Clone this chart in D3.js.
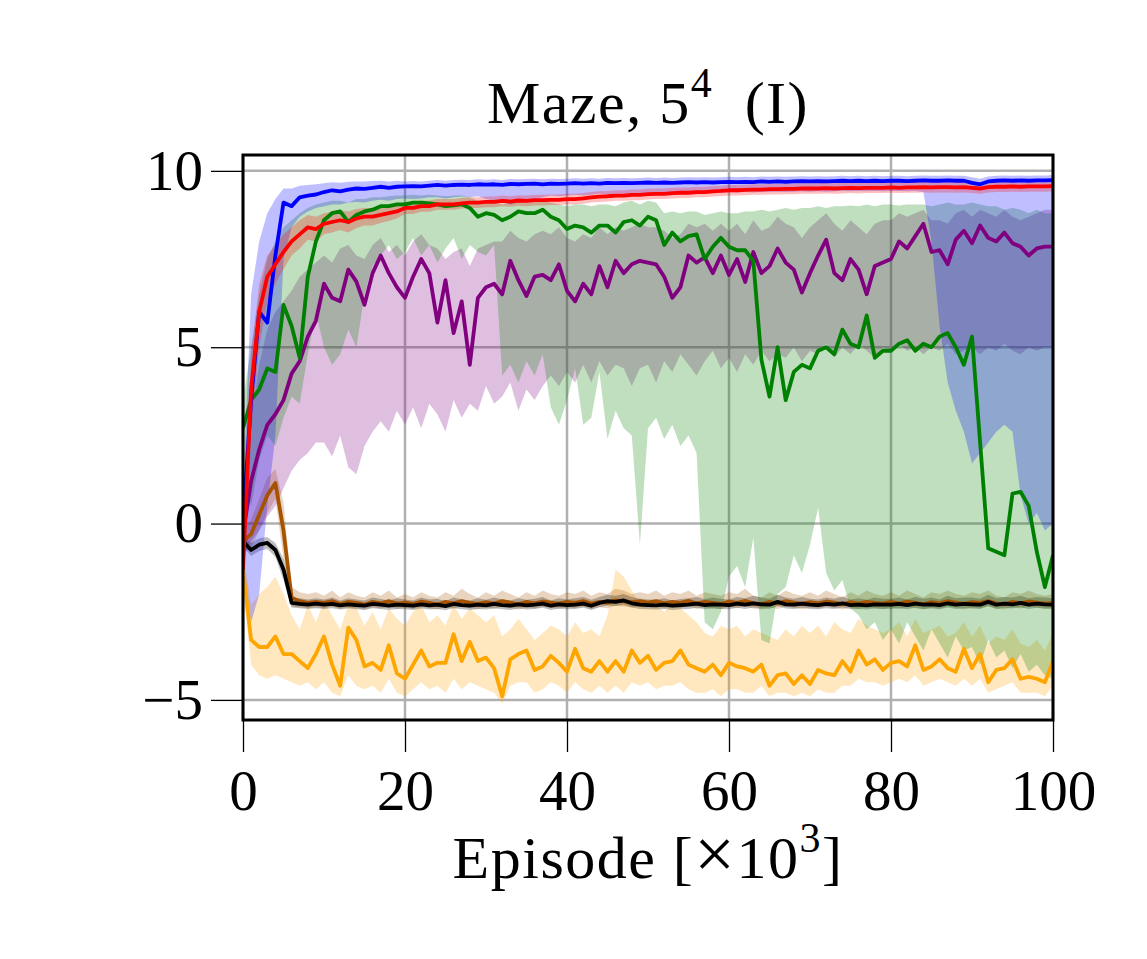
<!DOCTYPE html>
<html>
<head>
<meta charset="utf-8">
<script src="https://cdn.jsdelivr.net/npm/d3@7"></script>
<style>
  html, body { margin: 0; padding: 0; background: #fff; }
  text { font-family: "Liberation Serif", "DejaVu Serif", serif; fill: #000; }
</style>
</head>
<body>
<div id="chart"></div>
<script>
// x grid: one sample per 1000 episodes
const episodes = d3.range(0, 101);
const xTicks = [0, 20, 40, 60, 80, 100];
const yTicks = [-5, 0, 5, 10];

const blueMean = [
  0.0, 3.5, 6.0, 5.7, 7.6, 9.1, 9.0, 9.25, 9.3, 9.33,
  9.4, 9.45, 9.42, 9.47, 9.5, 9.49, 9.52, 9.55, 9.52, 9.55,
  9.56, 9.57, 9.56, 9.58, 9.6, 9.58, 9.6, 9.61, 9.6, 9.62,
  9.61, 9.62, 9.6, 9.63, 9.62, 9.63, 9.64, 9.62, 9.64, 9.63,
  9.64, 9.65, 9.64, 9.65, 9.64, 9.66, 9.65, 9.66, 9.65, 9.66,
  9.67, 9.66, 9.67, 9.66, 9.67, 9.68, 9.67, 9.68, 9.67, 9.68,
  9.69, 9.68, 9.69, 9.68, 9.7, 9.69, 9.7, 9.69, 9.7, 9.71,
  9.7, 9.71, 9.7, 9.71, 9.72, 9.71, 9.72, 9.71, 9.72, 9.71,
  9.72, 9.72, 9.71, 9.72, 9.73, 9.72, 9.72, 9.73, 9.72, 9.72,
  9.66, 9.62, 9.7, 9.72, 9.73, 9.72, 9.73, 9.72, 9.73, 9.73,
  9.74];
const blueHi = [
  0.8, 6.5, 8.0, 8.8, 9.2, 9.5, 9.5, 9.58, 9.6, 9.62,
  9.65, 9.68, 9.66, 9.69, 9.7, 9.7, 9.71, 9.72, 9.7, 9.72,
  9.7, 9.71, 9.7, 9.72, 9.74, 9.72, 9.74, 9.75, 9.74, 9.76,
  9.75, 9.76, 9.74, 9.77, 9.76, 9.77, 9.78, 9.76, 9.78, 9.77,
  9.78, 9.79, 9.78, 9.79, 9.78, 9.8, 9.79, 9.8, 9.79, 9.8,
  9.81, 9.8, 9.81, 9.8, 9.81, 9.82, 9.81, 9.82, 9.81, 9.82,
  9.83, 9.82, 9.83, 9.82, 9.84, 9.83, 9.84, 9.83, 9.84, 9.85,
  9.84, 9.85, 9.84, 9.85, 9.86, 9.85, 9.86, 9.85, 9.86, 9.85,
  9.86, 9.86, 9.85, 9.86, 9.87, 9.86, 9.86, 9.87, 9.86, 9.86,
  9.82, 9.78, 9.84, 9.86, 9.87, 9.86, 9.87, 9.86, 9.87, 9.87,
  9.88];
const blueLo = [
  -1.5, -2.8, -2.0, 0.5, 2.5, 7.5, 8.4, 8.7, 8.85, 8.95,
  9.0, 9.05, 9.05, 9.1, 9.12, 9.1, 9.15, 9.18, 9.15, 9.2,
  9.22, 9.2, 9.22, 9.25, 9.25, 9.22, 9.25, 9.27, 9.25, 9.28,
  9.2, 9.15, 9.1, 9.05, 9.1, 9.15, 9.2, 9.25, 9.3, 9.28,
  9.3, 9.32, 9.3, 9.32, 9.35, 9.33, 9.35, 9.35, 9.33, 9.36,
  9.37, 9.36, 9.37, 9.38, 9.37, 9.38, 9.37, 9.38, 9.4, 9.38,
  9.4, 9.39, 9.4, 9.39, 9.41, 9.4, 9.41, 9.4, 9.41, 9.42,
  9.41, 9.42, 9.41, 9.42, 9.43, 9.42, 9.43, 9.42, 9.43, 9.42,
  9.43, 9.43, 9.42, 9.43, 9.4, 8.0, 5.6, 4.0, 3.2, 2.6,
  1.7, 2.0, 2.3, 2.6, 2.8, 2.6, 0.8, 0.0, 0.3, -0.2,
  0.0];

const redMean = [
  -1.3, 3.8, 6.0, 7.0, 7.35, 7.7, 8.0, 8.2, 8.4, 8.35,
  8.5, 8.55, 8.6, 8.55, 8.65, 8.7, 8.7, 8.75, 8.8, 8.85,
  8.95, 8.95, 9.0, 9.0, 9.05, 9.05, 9.05, 9.08, 9.1, 9.1,
  9.12, 9.12, 9.15, 9.13, 9.16, 9.15, 9.17, 9.17, 9.18, 9.18,
  9.2, 9.2, 9.22, 9.25, 9.27, 9.28, 9.3, 9.3, 9.32, 9.32,
  9.34, 9.35, 9.35, 9.37, 9.38, 9.38, 9.4, 9.4, 9.42, 9.43,
  9.45, 9.45, 9.46, 9.47, 9.47, 9.48, 9.48, 9.49, 9.49, 9.5,
  9.5, 9.5, 9.51, 9.5, 9.51, 9.52, 9.51, 9.52, 9.52, 9.52,
  9.53, 9.52, 9.53, 9.53, 9.54, 9.53, 9.54, 9.54, 9.53, 9.54,
  9.52, 9.5, 9.54, 9.55, 9.55, 9.56, 9.55, 9.56, 9.56, 9.56,
  9.57];
const redHi = [
  -0.8, 4.8, 6.8, 7.6, 7.9, 8.2, 8.4, 8.6, 8.75, 8.7,
  8.8, 8.85, 8.88, 8.85, 8.92, 8.95, 8.95, 8.98, 9.02, 9.05,
  9.12, 9.12, 9.16, 9.16, 9.2, 9.2, 9.2, 9.23, 9.25, 9.25,
  9.27, 9.27, 9.3, 9.28, 9.31, 9.3, 9.32, 9.32, 9.33, 9.33,
  9.35, 9.35, 9.37, 9.4, 9.42, 9.43, 9.45, 9.45, 9.47, 9.47,
  9.49, 9.5, 9.5, 9.52, 9.53, 9.53, 9.55, 9.55, 9.57, 9.58,
  9.6, 9.6, 9.61, 9.62, 9.62, 9.63, 9.63, 9.64, 9.64, 9.65,
  9.65, 9.65, 9.66, 9.65, 9.66, 9.67, 9.66, 9.67, 9.67, 9.67,
  9.68, 9.67, 9.68, 9.68, 9.69, 9.68, 9.69, 9.69, 9.68, 9.69,
  9.67, 9.65, 9.69, 9.7, 9.7, 9.71, 9.7, 9.71, 9.71, 9.71,
  9.72];
const redLo = [
  -1.8, 2.6, 5.0, 6.3, 6.8, 7.2, 7.6, 7.8, 8.05, 8.0,
  8.2, 8.25, 8.32, 8.25, 8.38, 8.45, 8.45, 8.52, 8.58, 8.65,
  8.78, 8.78, 8.84, 8.84, 8.9, 8.9, 8.9, 8.93, 8.95, 8.95,
  8.97, 8.97, 9.0, 8.98, 9.01, 9.0, 9.02, 9.02, 9.03, 9.03,
  9.05, 9.05, 9.07, 9.1, 9.12, 9.13, 9.15, 9.15, 9.17, 9.17,
  9.19, 9.2, 9.2, 9.22, 9.23, 9.23, 9.25, 9.25, 9.27, 9.28,
  9.3, 9.3, 9.31, 9.32, 9.32, 9.33, 9.33, 9.34, 9.34, 9.35,
  9.35, 9.35, 9.36, 9.35, 9.36, 9.37, 9.36, 9.37, 9.37, 9.37,
  9.38, 9.37, 9.38, 9.38, 9.39, 9.38, 9.39, 9.39, 9.38, 9.39,
  9.37, 9.35, 9.39, 9.4, 9.4, 9.41, 9.4, 9.41, 9.41, 9.41,
  9.42];

const greenMean = [
  2.7, 3.5, 3.8, 4.4, 4.3, 6.2, 5.6, 4.7, 7.0, 8.0,
  8.6, 8.8, 8.85, 8.55, 8.75, 8.85, 8.9, 9.0, 9.0, 9.05,
  9.05, 9.1, 9.1, 9.08, 9.05, 9.0, 9.02, 9.05, 8.95, 8.7,
  8.8, 8.75, 8.6, 8.7, 8.85, 8.8, 8.8, 8.9, 8.7, 8.6,
  8.35, 8.45, 8.4, 8.25, 8.45, 8.45, 8.25, 8.55, 8.6, 8.45,
  8.7, 8.6, 7.9, 8.25, 8.0, 8.15, 8.2, 7.5, 7.85, 8.1,
  7.85, 7.75, 7.75, 7.45, 4.65, 3.6, 5.0, 3.5, 4.3, 4.5,
  4.4, 4.9, 5.0, 4.8, 5.5, 5.1, 5.0, 5.9, 4.7, 4.9,
  4.9, 5.1, 5.2, 4.9, 5.1, 5.0, 5.3, 5.4, 5.0, 4.5,
  5.3, 2.3, -0.7, -0.8, -0.9, 0.85, 0.9, 0.5, -0.8, -1.8,
  -0.9];
const greenHi = [
  3.5, 5.0, 6.5, 7.5, 8.0, 8.4, 8.6, 8.8, 8.95, 9.05,
  9.1, 9.15, 9.15, 9.1, 9.2, 9.2, 9.25, 9.25, 9.28, 9.3,
  9.3, 9.32, 9.3, 9.32, 9.3, 9.28, 9.3, 9.3, 9.25, 9.15,
  9.15, 9.12, 9.05, 9.1, 9.15, 9.15, 9.12, 9.18, 9.1, 9.05,
  9.0, 9.05, 9.05, 9.0, 9.05, 9.05, 9.0, 9.1, 9.15, 9.05,
  9.15, 9.1, 8.8, 8.85, 8.8, 8.85, 8.85, 8.75, 8.8, 8.85,
  8.8, 8.8, 8.85, 8.85, 8.9, 8.85, 8.9, 8.95, 8.9, 8.95,
  8.95, 9.0, 8.95, 9.0, 9.0, 9.02, 9.0, 9.05, 9.0, 9.05,
  9.05, 9.02, 9.05, 9.05, 9.05, 9.0, 9.05, 9.1, 9.05, 9.05,
  9.1, 9.05, 9.0, 9.0, 8.9, 8.95, 8.9, 8.8, 8.9, 8.8,
  8.8];
const greenLo = [
  1.5, 0.5, 1.8, 2.5, 2.2, 3.0, 3.6, 3.4, 4.8, 6.0,
  5.0, 4.5, 4.8, 5.5, 5.0, 6.5, 7.3, 7.6, 7.9, 7.5,
  7.7, 8.1, 7.6, 7.9, 7.4, 7.8, 8.1, 7.5, 7.9, 7.7,
  7.6, 7.9, 4.2, 4.5, 4.0, 4.6, 4.2, 4.8, 3.3, 2.8,
  3.5, 4.4, 2.8, 3.0, 4.3, 2.4, 3.2, 2.7, 2.5, -0.6,
  2.7, 3.0, 2.4, 2.8, 2.2, 2.5, 2.0, -2.8, -3.0, -2.5,
  -1.5, -1.2, -1.8, -0.4, -3.3, -3.4, -2.0, -1.8, -0.9, -1.4,
  -0.6, 0.45, -1.4, -1.9, -1.6, -2.4, -2.6, -3.0, -2.8, -3.3,
  -3.0, -3.4, -2.8, -3.2, -3.6, -3.0, -3.4, -3.8, -3.2, -3.6,
  -3.5, -4.0, -3.3, -3.8, -3.6, -4.1, -3.7, -4.2, -4.0, -4.3,
  -4.4];

const purpleMean = [
  -0.3, 1.2, 2.1, 2.8, 3.1, 3.5, 4.25, 4.6, 5.3, 5.75,
  6.8, 6.4, 6.3, 7.2, 6.86, 6.2, 7.1, 7.6, 7.1, 6.7,
  6.4, 7.0, 7.5, 7.1, 5.7, 6.9, 5.4, 6.3, 4.5, 6.4,
  6.7, 6.8, 6.5, 7.45, 6.9, 6.45, 7.0, 7.05, 6.9, 7.35,
  6.6, 6.3, 6.8, 6.5, 7.3, 6.7, 7.45, 7.1, 7.35, 7.45,
  7.4, 7.35, 7.0, 6.4, 6.7, 7.6, 7.4, 7.55, 7.1, 7.6,
  7.05, 7.5, 6.85, 7.7, 7.1, 7.3, 7.8, 7.4, 7.2, 6.55,
  7.1, 7.6, 8.05, 7.1, 6.9, 7.5, 7.2, 6.5, 7.3, 7.4,
  7.5, 8.0, 7.8, 8.15, 8.5, 7.7, 7.75, 7.35, 8.05, 8.3,
  7.95, 8.45, 8.1, 8.0, 8.25, 7.95, 7.85, 7.6, 7.8, 7.85,
  7.85];
const purpleHi = [
  0.5, 3.0, 4.5, 5.5, 6.0, 6.3, 6.6, 7.0, 7.2, 7.4,
  7.6, 7.4, 7.8, 7.9, 7.6, 7.5, 7.9, 8.1, 7.7, 7.9,
  7.6, 8.0, 8.2, 7.9, 7.8, 7.5, 7.7, 7.8, 7.3, 7.8,
  7.9, 8.0, 8.0, 8.3, 8.1, 8.0, 8.2, 8.3, 8.2, 8.4,
  8.1, 8.0, 8.2, 8.1, 8.4, 8.2, 8.4, 8.3, 8.4, 8.5,
  8.4, 8.4, 8.3, 8.1, 8.2, 8.5, 8.4, 8.5, 8.3, 8.5,
  8.3, 8.5, 8.2, 8.6, 8.3, 8.4, 8.7, 8.5, 8.4, 8.1,
  8.4, 8.6, 8.8, 8.5, 8.3, 8.6, 8.4, 8.2, 8.5, 8.6,
  8.6, 8.8, 8.7, 8.8, 8.9, 8.6, 8.6, 8.5, 8.8, 8.9,
  8.7, 8.9, 8.8, 8.7, 8.9, 8.7, 8.6, 8.7, 8.8, 8.9,
  8.9];
const purpleLo = [
  -1.0, -0.5, -0.2, 0.2, 0.5, 1.0, 1.5, 1.8, 2.0, 2.3,
  2.3, 1.9, 2.5, 1.6, 1.4, 2.2, 2.6, 2.9, 2.6, 3.2,
  2.8, 3.3, 2.7, 3.4, 3.1, 2.6, 3.5, 3.0, 3.4, 3.2,
  3.9, 3.4, 3.6, 4.0, 3.2, 3.8, 3.5, 3.9, 4.2, 3.9,
  4.3, 4.0, 4.5, 4.0, 4.6, 4.2, 4.5, 4.4, 3.9, 4.4,
  4.5, 4.0, 4.6, 4.3, 4.8, 4.5, 4.2, 4.6, 4.9, 4.4,
  4.7, 4.3, 4.8, 4.5, 4.9, 4.6, 4.8, 4.7, 5.0, 4.6,
  4.9, 4.8, 5.1, 4.7, 5.0, 4.8, 5.1, 4.9, 4.7, 5.0,
  4.9, 5.1, 4.9, 5.0, 4.8, 5.0, 4.9, 5.1, 4.8, 4.9,
  5.0, 4.8, 5.0, 4.9, 5.1, 4.9, 4.8, 5.0, 4.9, 5.0,
  5.0];

const brownMean = [
  -0.5, -0.3, 0.25, 0.8, 1.15, -0.2, -2.1, -2.2, -2.25, -2.22,
  -2.25, -2.2, -2.28, -2.22, -2.25, -2.3, -2.22, -2.26, -2.2, -2.27,
  -2.24, -2.28, -2.21, -2.25, -2.3, -2.22, -2.26, -2.2, -2.25, -2.28,
  -2.23, -2.27, -2.2, -2.24, -2.29, -2.22, -2.26, -2.21, -2.24, -2.27,
  -2.22, -2.25, -2.2, -2.27, -2.22, -2.25, -2.18, -2.2, -2.23, -2.2,
  -2.24, -2.2, -2.26, -2.22, -2.25, -2.19, -2.27, -2.22, -2.25, -2.28,
  -2.21, -2.25, -2.19, -2.26, -2.29, -2.22, -2.27, -2.2, -2.24, -2.28,
  -2.23, -2.26, -2.21, -2.24, -2.29, -2.23, -2.27, -2.22, -2.25, -2.27,
  -2.22, -2.27, -2.21, -2.25, -2.29, -2.23, -2.26, -2.2, -2.24, -2.28,
  -2.23, -2.25, -2.2, -2.26, -2.29, -2.22, -2.26, -2.21, -2.24, -2.27,
  -2.25];
const brownHi = [
  -0.2, 0.1, 0.7, 1.3, 1.55, 0.6, -1.8, -1.95, -2.0, -1.95,
  -2.05, -1.9, -2.1, -1.95, -2.05, -2.1, -1.95, -2.05, -1.9, -2.1,
  -2.0, -2.1, -1.95, -2.05, -2.1, -1.95, -2.05, -1.85, -2.0, -2.1,
  -1.95, -2.05, -1.9, -2.0, -2.1, -1.95, -2.05, -1.9, -2.0, -2.05,
  -1.95, -2.0, -1.9, -2.05, -1.95, -2.0, -1.85, -1.9, -2.0, -1.95,
  -2.0, -1.9, -2.05, -1.95, -2.0, -1.9, -2.05, -1.95, -2.0, -2.05,
  -1.95, -2.0, -1.85, -2.05, -2.1, -1.95, -2.05, -1.9, -2.0, -2.05,
  -1.95, -2.05, -1.9, -2.0, -2.1, -1.95, -2.05, -1.9, -2.0, -2.05,
  -1.95, -2.05, -1.9, -2.0, -2.1, -1.95, -2.0, -1.9, -2.0, -2.05,
  -1.95, -2.0, -1.9, -2.05, -2.1, -1.95, -2.0, -1.9, -2.0, -2.05,
  -2.0];
const brownLo = [
  -0.8, -0.7, -0.2, 0.3, 0.7, -1.0, -2.35, -2.38, -2.4, -2.38,
  -2.4, -2.35, -2.42, -2.38, -2.4, -2.44, -2.37, -2.41, -2.36, -2.42,
  -2.39, -2.43, -2.36, -2.4, -2.44, -2.37, -2.41, -2.35, -2.4, -2.43,
  -2.38, -2.42, -2.35, -2.39, -2.44, -2.37, -2.41, -2.36, -2.39, -2.42,
  -2.37, -2.4, -2.35, -2.42, -2.37, -2.4, -2.33, -2.35, -2.38, -2.35,
  -2.39, -2.35, -2.41, -2.37, -2.4, -2.34, -2.42, -2.37, -2.4, -2.43,
  -2.36, -2.4, -2.34, -2.41, -2.44, -2.37, -2.42, -2.35, -2.39, -2.43,
  -2.38, -2.41, -2.36, -2.39, -2.44, -2.38, -2.42, -2.37, -2.4, -2.42,
  -2.37, -2.42, -2.36, -2.4, -2.44, -2.38, -2.41, -2.35, -2.39, -2.43,
  -2.38, -2.4, -2.35, -2.41, -2.44, -2.37, -2.41, -2.36, -2.39, -2.42,
  -2.4];

const blackMean = [
  -0.5, -0.75, -0.6, -0.55, -0.75, -1.3, -2.25, -2.28, -2.3, -2.27,
  -2.3, -2.28, -2.32, -2.29, -2.31, -2.33, -2.28, -2.3, -2.33, -2.3,
  -2.31, -2.33, -2.29, -2.32, -2.3, -2.34, -2.28, -2.31, -2.33, -2.3,
  -2.32, -2.28, -2.31, -2.33, -2.29, -2.32, -2.3, -2.27, -2.33, -2.29,
  -2.31, -2.3, -2.27, -2.33, -2.25, -2.2, -2.22, -2.18, -2.26, -2.3,
  -2.31, -2.32, -2.3, -2.33, -2.31, -2.3, -2.27, -2.31, -2.29, -2.3,
  -2.31, -2.27, -2.3, -2.26, -2.29, -2.3, -2.22, -2.29, -2.3, -2.27,
  -2.3, -2.31, -2.28, -2.3, -2.26, -2.31, -2.3, -2.32, -2.29, -2.3,
  -2.3, -2.28, -2.31, -2.27, -2.3, -2.29, -2.31, -2.26, -2.3, -2.28,
  -2.29, -2.3, -2.22, -2.3, -2.27, -2.29, -2.25, -2.3, -2.27, -2.29,
  -2.3];
const blackHi = [
  -0.35, -0.55, -0.42, -0.38, -0.55, -1.0, -2.1, -2.12, -2.15, -2.12,
  -2.15, -2.1, -2.18, -2.12, -2.15, -2.18, -2.1, -2.14, -2.18, -2.12,
  -2.15, -2.18, -2.1, -2.15, -2.13, -2.2, -2.1, -2.15, -2.18, -2.12,
  -2.16, -2.1, -2.15, -2.18, -2.12, -2.16, -2.13, -2.08, -2.18, -2.12,
  -2.15, -2.12, -2.08, -2.16, -2.08, -2.02, -2.05, -2.0, -2.08, -2.13,
  -2.15, -2.16, -2.12, -2.18, -2.14, -2.12, -2.08, -2.14, -2.1, -2.13,
  -2.15, -2.08, -2.12, -2.05, -2.1, -2.13, -2.02, -2.1, -2.13, -2.08,
  -2.13, -2.15, -2.1, -2.13, -2.07, -2.15, -2.12, -2.16, -2.1, -2.13,
  -2.13, -2.1, -2.15, -2.08, -2.13, -2.1, -2.15, -2.05, -2.12, -2.1,
  -2.1, -2.13, -2.02, -2.12, -2.08, -2.1, -2.05, -2.12, -2.08, -2.1,
  -2.12];
const blackLo = [
  -0.65, -0.92, -0.78, -0.72, -0.95, -1.6, -2.38, -2.4, -2.42, -2.4,
  -2.42, -2.4, -2.44, -2.41, -2.43, -2.45, -2.4, -2.42, -2.45, -2.42,
  -2.43, -2.45, -2.41, -2.44, -2.42, -2.46, -2.4, -2.43, -2.45, -2.42,
  -2.44, -2.4, -2.43, -2.45, -2.41, -2.44, -2.42, -2.39, -2.45, -2.41,
  -2.43, -2.42, -2.39, -2.45, -2.37, -2.32, -2.34, -2.3, -2.38, -2.42,
  -2.43, -2.44, -2.42, -2.45, -2.43, -2.42, -2.39, -2.43, -2.41, -2.42,
  -2.43, -2.39, -2.42, -2.38, -2.41, -2.42, -2.34, -2.41, -2.42, -2.39,
  -2.42, -2.43, -2.4, -2.42, -2.38, -2.43, -2.42, -2.44, -2.41, -2.42,
  -2.42, -2.4, -2.43, -2.39, -2.42, -2.41, -2.43, -2.38, -2.42, -2.4,
  -2.41, -2.42, -2.34, -2.42, -2.39, -2.41, -2.37, -2.42, -2.39, -2.41,
  -2.42];

const orangeMean = [
  -1.3, -3.3, -3.5, -3.5, -3.2, -3.7, -3.7, -3.9, -4.1, -3.7,
  -3.2, -4.0, -4.6, -2.95, -3.3, -4.05, -3.95, -4.15, -3.45, -4.25,
  -4.4, -4.0, -3.6, -4.05, -3.95, -3.95, -3.14, -3.9, -3.35, -3.9,
  -3.8, -4.1, -4.9, -3.85, -3.7, -3.6, -4.15, -4.05, -3.75, -3.95,
  -4.2, -3.55, -4.1, -4.2, -3.9, -4.2, -3.9, -4.2, -3.6, -3.95,
  -3.75, -4.15, -3.95, -3.9, -3.6, -4.0, -4.1, -4.2, -4.0, -4.3,
  -3.95, -4.05, -4.1, -4.2, -4.0, -4.6, -4.3, -4.25, -4.55, -4.3,
  -4.55, -4.15, -4.25, -4.3, -3.9, -4.2, -3.6, -4.0, -3.85, -4.15,
  -3.95, -3.9, -4.05, -3.45, -4.15, -4.05, -3.85, -4.1, -4.2, -3.55,
  -4.1, -3.7, -4.5, -4.15, -4.1, -3.85, -4.4, -4.35, -4.4, -4.5,
  -3.9];
const orangeHi = [
  -0.8, -2.3, -2.0, -1.8, -1.5, -2.0, -2.6, -3.0, -2.3, -2.8,
  -2.2, -2.6, -3.0, -2.3, -2.4, -2.9, -2.5, -3.0, -2.4, -2.7,
  -2.9, -2.5, -2.3, -2.8, -2.6, -2.9, -2.3, -2.7, -2.4, -2.6,
  -2.8, -2.6, -3.2, -3.0, -2.7, -3.0, -3.3, -3.1, -2.9, -3.0,
  -3.2, -2.8, -3.1, -3.0, -3.2, -2.6, -1.3, -1.5, -1.9, -2.3,
  -2.4, -2.3, -2.5, -2.3, -2.4, -2.6, -2.8, -3.1, -3.2, -2.9,
  -3.0, -2.9, -3.2, -3.0, -3.1, -3.2, -3.3, -3.0, -3.2, -2.9,
  -3.1, -2.9, -3.2, -2.8, -3.0, -3.1, -2.7, -2.9, -3.0, -3.1,
  -3.0, -2.8, -3.2, -2.7, -3.1, -3.0, -2.9, -3.2, -3.1, -2.8,
  -3.2, -2.9, -3.4, -3.2, -3.3, -3.0, -3.4, -3.5, -3.3, -3.6,
  -3.1];
const orangeLo = [
  -1.8, -4.0, -4.3, -4.4, -4.3, -4.4, -4.5, -4.6, -4.5, -4.7,
  -4.5, -4.8, -4.9, -4.3, -4.6, -4.7, -4.6, -4.8, -4.4, -4.8,
  -4.9, -4.7, -4.5, -4.7, -4.6, -4.8, -4.4, -4.7, -4.5, -4.6,
  -4.7, -4.8, -5.1, -4.6, -4.5, -4.5, -4.8, -4.7, -4.5, -4.6,
  -4.8, -4.5, -4.7, -4.8, -4.6, -4.8, -4.6, -4.8, -4.5, -4.6,
  -4.5, -4.7, -4.6, -4.6, -4.5, -4.7, -4.8, -4.8, -4.7, -4.9,
  -4.7, -4.7, -4.8, -4.8, -4.6, -4.9, -4.8, -4.8, -4.9, -4.8,
  -4.9, -4.7, -4.8, -4.8, -4.6, -4.6, -4.4, -4.5, -4.5, -4.6,
  -4.5, -4.4, -4.5, -4.3, -4.6, -4.5, -4.4, -4.5, -4.6, -4.4,
  -4.6, -4.4, -4.8, -4.7, -4.6, -4.5, -4.8, -4.8, -4.8, -4.9,
  -4.6];

// drawing order: later entries end up on top
const series = [
  { color: "#ffa500", mean: orangeMean, lo: orangeLo, hi: orangeHi },
  { color: "#a65300", mean: brownMean, lo: brownLo, hi: brownHi },
  { color: "#000000", mean: blackMean, lo: blackLo, hi: blackHi },
  { color: "#800080", mean: purpleMean, lo: purpleLo, hi: purpleHi },
  { color: "#008000", mean: greenMean, lo: greenLo, hi: greenHi },
  { color: "#0000ff", mean: blueMean, lo: blueLo, hi: blueHi },
  { color: "#ff0000", mean: redMean, lo: redLo, hi: redHi },
];

const width = 1147;
const height = 959;
const margin = { top: 155, right: 94, bottom: 239, left: 243 };
const fontSize = 57;
const labelSize = 60;

const svg = d3
  .select("#chart")
  .append("svg")
  .attr("width", width)
  .attr("height", height);

const x = d3
  .scaleLinear()
  .domain([0, 100])
  .range([margin.left, width - margin.right]);

const y = d3
  .scaleLinear()
  .domain([-5.57, 10.45])
  .range([height - margin.bottom, margin.top]);

svg
  .append("clipPath")
  .attr("id", "plot-clip")
  .append("rect")
  .attr("x", margin.left)
  .attr("y", margin.top)
  .attr("width", width - margin.left - margin.right)
  .attr("height", height - margin.top - margin.bottom);

// grid
svg
  .append("g")
  .selectAll("line")
  .data(xTicks)
  .join("line")
  .attr("x1", (d) => x(d))
  .attr("x2", (d) => x(d))
  .attr("y1", margin.top)
  .attr("y2", height - margin.bottom)
  .attr("stroke", "#b0b0b0")
  .attr("stroke-width", 2.5);

svg
  .append("g")
  .selectAll("line")
  .data(yTicks)
  .join("line")
  .attr("x1", margin.left)
  .attr("x2", width - margin.right)
  .attr("y1", (d) => y(d))
  .attr("y2", (d) => y(d))
  .attr("stroke", "#b0b0b0")
  .attr("stroke-width", 2.5);

const plot = svg.append("g").attr("clip-path", "url(#plot-clip)");

const area = (s) =>
  d3
    .area()
    .x((d, i) => x(episodes[i]))
    .y0((d, i) => y(s.lo[i]))
    .y1((d, i) => y(s.hi[i]));

const line = d3
  .line()
  .x((d, i) => x(episodes[i]))
  .y((d) => y(d));

series.forEach((s) => {
  plot
    .append("path")
    .datum(s.mean)
    .attr("fill", s.color)
    .attr("fill-opacity", 0.25)
    .attr("stroke", "none")
    .attr("d", area(s));
});

series.forEach((s) => {
  plot
    .append("path")
    .datum(s.mean)
    .attr("fill", "none")
    .attr("stroke", s.color)
    .attr("stroke-width", 3.8)
    .attr("stroke-linejoin", "round")
    .attr("d", line);
});

// frame
svg
  .append("rect")
  .attr("x", margin.left)
  .attr("y", margin.top)
  .attr("width", width - margin.left - margin.right)
  .attr("height", height - margin.top - margin.bottom)
  .attr("fill", "none")
  .attr("stroke", "#000")
  .attr("stroke-width", 3);

const styleAxis = (g) => {
  g.select(".domain").remove();
  g.selectAll("line").attr("stroke", "#000").attr("stroke-width", 1.3);
  g.selectAll("text")
    .attr("font-size", fontSize)
    .attr("font-family", '"Liberation Serif", "DejaVu Serif", serif')
    .attr("fill", "#000");
};

svg
  .append("g")
  .attr("transform", `translate(0,${height - margin.bottom})`)
  .call(d3.axisBottom(x).tickValues(xTicks).tickSize(32).tickPadding(18).tickFormat(d3.format("d")))
  .call(styleAxis);

svg
  .append("g")
  .attr("transform", `translate(${margin.left},0)`)
  .call(d3.axisLeft(y).tickValues(yTicks).tickSize(32).tickPadding(8).tickFormat(d3.format("d")))
  .call(styleAxis);

// title
const title = svg
  .append("text")
  .attr("x", (margin.left + width - margin.right) / 2)
  .attr("y", 123)
  .attr("text-anchor", "middle")
  .attr("letter-spacing", 1.5)
  .attr("font-size", labelSize);
title.append("tspan").text("Maze, 5");
title.append("tspan").attr("font-size", 42).attr("dy", -26).text("4");
title.append("tspan").attr("dy", 26).text("\u2002(I)");

// x label
const xLabel = svg
  .append("text")
  .attr("x", (margin.left + width - margin.right) / 2)
  .attr("y", 878)
  .attr("text-anchor", "middle")
  .attr("letter-spacing", 1.5)
  .attr("font-size", labelSize);
xLabel.append("tspan").text("Episode [");
xLabel.append("tspan").attr("font-size", 72).text("×");
xLabel.append("tspan").text("10");
xLabel.append("tspan").attr("font-size", 42).attr("dy", -26).text("3");
xLabel.append("tspan").attr("dy", 26).text("]");
</script>
</body>
</html>
